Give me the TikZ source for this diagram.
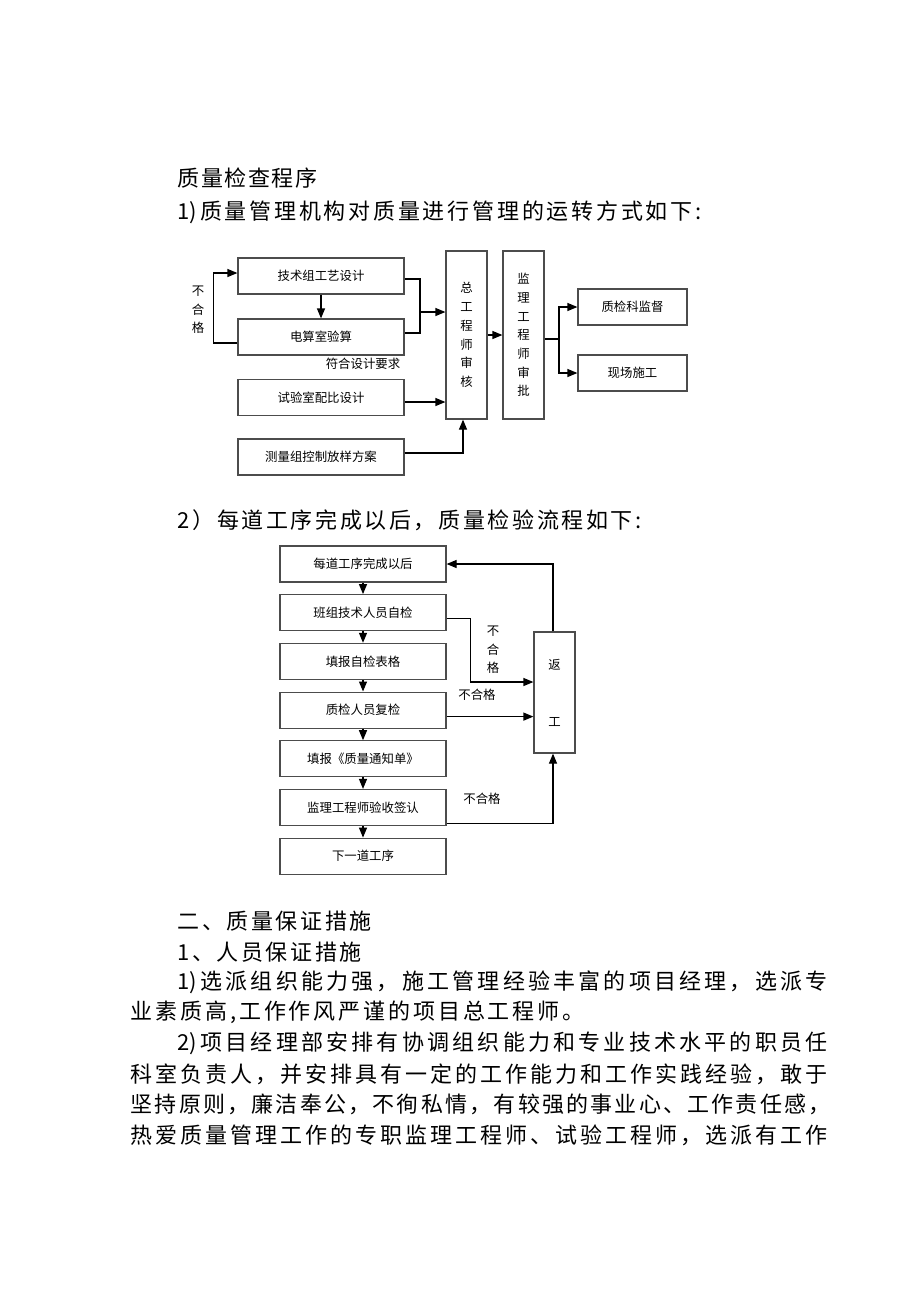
\documentclass[tikz,border=0pt]{standalone}
\usepackage{fontspec}
\newfontfamily\cjk{Noto Sans CJK SC}
\usetikzlibrary{arrows.meta,positioning}
\makeatletter
\newcommand\spreadline[2]{\makebox[#1][s]{\@tempswafalse\@tfor\sp@ch:=#2\do{\if@tempswa\hfil\fi\sp@ch\@tempswatrue}}}
\makeatother
\newcommand\boxfont{\cjk\fontsize{12.4pt}{18.7pt}\selectfont}
\newcommand\bodyfont{\cjk\fontsize{22pt}{26pt}\selectfont}
\tikzset{
block/.style = {draw=black!70, line width=1.2pt, fill=white, rectangle, minimum height=36pt, minimum width=166pt, inner sep=0pt, font=\boxfont},
vblock/.style = {block, minimum width=41pt, minimum height=168pt, align=center},
sblock/.style = {block, minimum width=109pt},
note/.style = {inner sep=0pt, font=\boxfont, align=center},
para/.style = {inner sep=0pt, anchor=west, font=\bodyfont}
}

\begin{document}
\begin{tikzpicture}[x=1pt, y=-1pt, line width=1.2pt, >={Triangle[length=10pt,width=8pt]}]
  \fill [white] (0,0) rectangle (920,1302);
  \useasboundingbox (0,0) rectangle (920,1302);

  % headings
  \node [para] (head)  at (177,178) {\spreadline{140pt}{质量检查程序}};
  \node [para] (head1) at (177,212) {\spreadline{524pt}{{1)}质量管理机构对质量进行管理的运转方式如下:}};

  % first chart
  \node [block] (jsz)  at (321,276)   {技术组工艺设计};
  \node [block] (dsy)  at (321,337)   {电算室验算};
  \node [block] (sys)  at (321,397.5) {试验室配比设计};
  \node [block] (clf)  at (321,457)   {测量组控制放样方案};
  \node [vblock] (zgs) at (466.5,335) {总\\工\\程\\师\\审\\核};
  \node [vblock] (jlsp) at (523.5,335) {监\\理\\工\\程\\师\\审\\批};
  \node [sblock] (zjk)  at (632.5,307) {质检科监督};
  \node [sblock] (xcsg) at (632.5,373) {现场施工};
  \node [note] (bhg1) at (198,310) {不\\合\\格};
  \node [note] (fhyq) at (363,364) {符合设计要求};
  \coordinate (m1) at (420,312);
  \coordinate (m2) at (559,339);

  \draw [->] (jsz) -- (dsy);
  \draw [->] ([yshift=-6pt]dsy.west) -- ++(-24,0) |- ([yshift=3pt]jsz.west);
  \draw ([yshift=-3pt]jsz.east) -| (m1) |- ([yshift=4pt]dsy.east);
  \draw [->] (m1) -- (m1 -| zgs.west);
  \draw [->] ([yshift=-4.5pt]sys.east) -- ([yshift=-4.5pt]sys.east -| zgs.west);
  \draw [->] ([yshift=4pt]clf.east) -| ([xshift=-3.5pt]zgs.south);
  \draw [->] (zgs) -- (jlsp);
  \draw ([yshift=-4pt]jlsp.east) -- (m2);
  \draw [->] (m2) |- (zjk);
  \draw [->] (m2) |- (xcsg);

  % second chart
  \node [para] (head2) at (177,520) {\spreadline{464pt}{2）每道工序完成以后，质量检验流程如下:}};
  \node [block] (b1) at (363,564) {每道工序完成以后};
  \node [block, below=11.5pt of b1] (b2) {班组技术人员自检};
  \node [block, below=11.5pt of b2] (b3) {填报自检表格};
  \node [block, below=11.5pt of b3] (b4) {质检人员复检};
  \node [block, below=11.5pt of b4] (b5) {填报《质量通知单》};
  \node [block, below=11.5pt of b5] (b6) {监理工程师验收签认};
  \node [block, below=11.5pt of b6] (b7) {下一道工序};
  \node [vblock, minimum height=121pt] (fg) at (554.5,692.5) {返\\[38.3pt]工};
  \node [note] (bhg2) at (493,650) {不\\合\\格};
  \node [note] (bhg3) at (477,695) {不合格};
  \node [note] (bhg4) at (482,799) {不合格};

  \draw [->] (b1) -- (b2);
  \draw [->] (b2) -- (b3);
  \draw [->] (b3) -- (b4);
  \draw [->] (b4) -- (b5);
  \draw [->] (b5) -- (b6);
  \draw [->] (b6) -- (b7);
  \draw [->] ([xshift=-1.5pt]fg.north) |- (b1);
  \draw [->] ([yshift=-5.5pt]b2.east) -- ++(24,0) |- ([yshift=10.5pt]fg.west);
  \draw [->] ([yshift=-6.5pt]b4.east) -- ([yshift=-6.5pt]b4.east -| fg.west);
  \draw [->] ([yshift=-16pt]b6.east) -| ([xshift=-1.5pt]fg.south);

  % text below
  \node [para] (sec)  at (177,921)  {\spreadline{194pt}{二、质量保证措施}};
  \node [para] (sec1) at (177,952)  {\spreadline{184pt}{1、人员保证措施}};
  \node [para] (par1) at (177,982)  {\spreadline{650pt}{{1)}选派组织能力强，施工管理经验丰富的项目经理，选派专}};
  \node [para] (par2) at (130,1012) {\spreadline{454pt}{业素质高,工作作风严谨的项目总工程师。}};
  \node [para] (par3) at (177,1043) {\spreadline{650pt}{{2)}项目经理部安排有协调组织能力和专业技术水平的职员任}};
  \node [para] (par4) at (130,1074) {\spreadline{697pt}{科室负责人，并安排具有一定的工作能力和工作实践经验，敢于}};
  \node [para] (par5) at (130,1104) {\spreadline{700pt}{坚持原则，廉洁奉公，不徇私情，有较强的事业心、工作责任感，}};
  \node [para] (par6) at (130,1135) {\spreadline{697pt}{热爱质量管理工作的专职监理工程师、试验工程师，选派有工作}};
\end{tikzpicture}
\end{document}
